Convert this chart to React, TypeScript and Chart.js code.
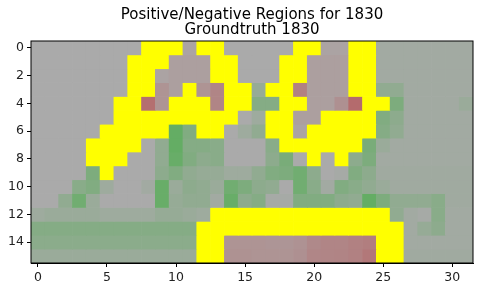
import React, { useEffect, useRef } from "react";
import { Chart, registerables } from "chart.js";

Chart.register(...registerables);

const TITLE_LINES = ["Positive/Negative Regions for 1830", "Groundtruth 1830"];
const N_COLS = 32;
const N_ROWS = 16;
const X_TICKS = [0, 5, 10, 15, 20, 25, 30];
const Y_TICKS = [0, 2, 4, 6, 8, 10, 12, 14];

// '1' = yellow (ground-truth mask) cell
const MASK: string[] = [
  "00000000111011000001100110000000",
  "00000001110001100011000110000000",
  "00000001100001100011000110000000",
  "00000001100100110110000110000000",
  "00000011001110110011000011000000",
  "00000011111111100110011110000000",
  "00000111110011000110111110000000",
  "00001111000000000011111100000000",
  "00001110000000000000101000000000",
  "00000100000000000000000000000000",
  "00000000000000000000000000000000",
  "00000000000000000000000000000000",
  "00000000000001111111111111000000",
  "00000000000011111111111111100000",
  "00000000000011000000000001100000",
  "00000000000011000000000001100000",
];

// positive = red, negative = green, 0 = neutral gray
const ROW_0 = [0,0,0,0,0,0,0,0, 0,0,0, 0.1, 0,0, 0,0,0,0,0, 0,0, 0.1,0.1, 0,0, -0.1,-0.1,-0.1,-0.1,-0.1,-0.1,-0.1];
const ROW_1 = [0,0,0,0,0,0,0, 0,0,0, 0.15,0.15,0.15, 0,0, 0,0,0, 0,0, 0.15,0.15,0.15, 0,0, -0.1,-0.1,-0.1,-0.1,-0.1,-0.1,-0.1];
const ROW_2 = [0,0,0,0,0,0,0, 0,0, 0.1,0.15,0.15,0.15, 0,0, 0,0,0, 0,0, 0.15,0.15,0.15, 0,0, -0.1,-0.1,-0.1,-0.1,-0.1,-0.1,-0.1];
const ROW_3 = [0,0,0,0,0,0,0, 0,0, 0.3,0.15, 0, 0.3,0.5, 0,0, -0.25, 0,0, 0.55, 0.15,0.15,0.15, 0,0, -0.3,-0.3, -0.1,-0.1,-0.1,-0.1,-0.1];
const ROW_4 = [0,0,0,0,0,0, 0,0, 0.8,0.3, 0,0,0, 0.5, 0,0, -0.45,-0.45, 0,0, 0.15,0.15,0.35,0.85, 0,0, -0.55, -0.1,-0.1,-0.1,-0.1, -0.2];
const ROW_5 = [0,0,0,0,0,0, 0,0,0,0,0,0,0,0,0, 0, -0.15, 0,0, 0.15,0.15, 0,0,0,0, -0.5,-0.35, -0.1,-0.1,-0.1,-0.1,-0.1];
const ROW_6 = [0,0,0,0,0, 0,0,0,0,0, -0.85,-0.5, 0,0, 0,-0.15,-0.3, 0,0, 0.1, 0,0,0,0,0, -0.45,-0.3, -0.1,-0.1,-0.1,-0.1,-0.1];
const ROW_7 = [0,0,0,0, 0,0,0,0, 0,-0.3,-0.85,-0.45,-0.45,-0.4,0,0,0,-0.4, 0,0,0,0,0,0, -0.6,-0.2, -0.1,-0.1,-0.1,-0.1,-0.1,-0.1];
const ROW_8 = [0,0,0,0, 0,0,0, 0,0,-0.3,-0.8,-0.5,-0.35,-0.4,0,0,0,-0.35,-0.6, 0, -0.55, 0, 0,-0.35,-0.55, -0.1,-0.1,-0.1,-0.1,-0.1,-0.1,-0.1];
const ROW_9 = [0,0,0,0,-0.55,0,0,0,0,-0.35,-0.5,-0.3,-0.25,-0.25,-0.15,-0.15,-0.3,-0.5,-0.55,-0.7,-0.35,0,-0.05,-0.5,-0.35, -0.12,-0.12,-0.12,-0.12,-0.12,-0.12,-0.12];
const ROW_10 = [0,0,0,-0.4,-0.5,-0.15,0,0,-0.1,-0.8,-0.2,-0.35,-0.3,-0.2,-0.7,-0.55,-0.35,-0.3,0,-0.7,-0.4,-0.1,-0.5,-0.4,-0.3,-0.2, -0.12,-0.12,-0.12,-0.12,-0.12,-0.12];
const ROW_11 = [0,0,-0.3,-0.7,-0.2,0,0,0,0,-0.8,-0.25,-0.3,-0.3,-0.1,-0.8,-0.35,-0.45,-0.05,-0.05,-0.5,-0.5,-0.5,-0.35,-0.3,-0.85,-0.55,-0.3,-0.3,-0.3,-0.4,-0.12,-0.12];
const ROW_12 = [-0.15,-0.2,-0.2,-0.2,-0.2,-0.15,-0.15,-0.15,-0.15,-0.25,-0.25,-0.2,-0.15, 0,0,0,0,0,0,0,0,0,0,0,0,0, -0.3,-0.1,-0.05,-0.4,-0.1,-0.1];
const ROW_13 = [-0.45,-0.45,-0.45,-0.45,-0.45,-0.45,-0.45,-0.45,-0.45,-0.45,-0.45,-0.45, 0,0,0,0,0,0,0,0,0,0,0,0,0,0,0, -0.1,-0.25,-0.35,-0.1,-0.1];
const ROW_14 = [-0.38,-0.38,-0.38,-0.38,-0.38,-0.38,-0.38,-0.38,-0.38,-0.38,-0.38,-0.38, 0,0, 0.3,0.3,0.3,0.28,0.28,0.32,0.45,0.5,0.5,0.55,0.6, 0,0, -0.1,-0.1,-0.1,-0.1,-0.1];
const ROW_15 = [-0.2,-0.2,-0.2,-0.2,-0.2,-0.2,-0.2,-0.2,-0.2,-0.2,-0.2,-0.2, 0,0, 0.33,0.33,0.3,0.3,0.3,0.35,0.48,0.5,0.52,0.55,0.68, 0,0, -0.12,-0.12,-0.12,-0.12,-0.12];

const VALUES: number[][] = [
  ROW_0, ROW_1, ROW_2, ROW_3, ROW_4, ROW_5, ROW_6, ROW_7,
  ROW_8, ROW_9, ROW_10, ROW_11, ROW_12, ROW_13, ROW_14, ROW_15,
];

const BASE = [170, 170, 170];
const GREEN = [88, 174, 88];
const RED = [182, 96, 98];
const YELLOW = "#ffff00";

function cellColor(v: number, masked: boolean): string {
  if (masked) return YELLOW;
  const t = Math.min(1, Math.abs(v));
  const target = v < 0 ? GREEN : RED;
  const c = BASE.map((b, i) => Math.round(b + (target[i] - b) * t));
  return `rgb(${c[0]},${c[1]},${c[2]})`;
}

const framePlugin = {
  id: "frame",
  afterLayout(chart: any) {
    // centre the title over the plot area, as matplotlib does
    const tb = chart.titleBlock;
    if (tb) {
      tb.left = chart.chartArea.left;
      tb.right = chart.chartArea.right;
    }
  },
  afterDatasetsDraw(chart: any) {
    const { ctx, chartArea } = chart;
    ctx.save();
    ctx.strokeStyle = "#000";
    ctx.lineWidth = 1;
    ctx.strokeRect(chartArea.left, chartArea.top, chartArea.right - chartArea.left, chartArea.bottom - chartArea.top);
    ctx.restore();
  },
};

const TICK_FONT = { family: "DejaVu Sans", size: 12.5 };

export default function App() {
  const ref = useRef<HTMLCanvasElement>(null);

  useEffect(() => {
    document.body.style.margin = "0";
    const canvas = ref.current;
    if (!canvas) return;

    const datasets = VALUES.map((row, r) => ({
      label: `row ${r}`,
      data: row.map((_, c) => ({ x: c, y: [r - 0.5, r + 0.5] })),
      backgroundColor: row.map((v, c) => cellColor(v, MASK[r][c] === "1")),
      borderWidth: 0,
      barPercentage: 1,
      categoryPercentage: 1,
      grouped: false,
    }));

    const chart = new Chart(canvas, {
      type: "bar",
      data: { datasets: datasets as any },
      plugins: [framePlugin],
      options: {
        animation: false,
        responsive: false,
        events: [],
        layout: { padding: { left: 0, right: 7, top: 0, bottom: 0 } },
        plugins: {
          legend: { display: false },
          tooltip: { enabled: false },
          title: {
            display: true,
            text: TITLE_LINES,
            color: "#000",
            font: { family: "DejaVu Sans", size: 15, weight: "normal", lineHeight: 1.0 },
            padding: { top: 7.5, bottom: 3.5 },
          },
        },
        scales: {
          x: {
            type: "linear",
            min: -0.5,
            max: N_COLS - 0.5,
            offset: false,
            grid: { display: true, drawOnChartArea: false, drawTicks: true, tickLength: 4, color: "#000", offset: false },
            border: { display: true, color: "#000" },
            afterBuildTicks: (scale: any) => {
              scale.ticks = X_TICKS.map((v) => ({ value: v }));
            },
            ticks: {
              color: "#222",
              padding: 3,
              maxRotation: 0,
              autoSkip: false,
              font: TICK_FONT,
            },
            afterFit: (scale: any) => {
              scale.height = 28;
            },
          },
          y: {
            type: "linear",
            reverse: true,
            min: -0.5,
            max: N_ROWS - 0.5,
            beginAtZero: false,
            grid: { display: true, drawOnChartArea: false, drawTicks: true, tickLength: 4, color: "#000" },
            border: { display: true, color: "#000" },
            afterBuildTicks: (scale: any) => {
              scale.ticks = Y_TICKS.map((v) => ({ value: v }));
            },
            ticks: {
              color: "#222",
              padding: 3,
              autoSkip: false,
              font: TICK_FONT,
            },
            afterFit: (scale: any) => {
              scale.width = 31;
            },
          },
        },
      } as any,
    });

    return () => chart.destroy();
  }, []);

  return (
    <div style={{ width: 480, height: 291, background: "#fff" }}>
      <canvas ref={ref} width={480} height={291} style={{ display: "block" }} />
    </div>
  );
}
